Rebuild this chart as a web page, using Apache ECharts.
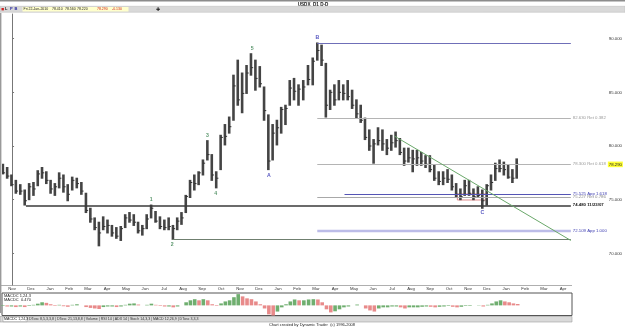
<!DOCTYPE html>
<html><head><meta charset="utf-8">
<script src="https://cdn.jsdelivr.net/npm/echarts@6/dist/echarts.min.js"></script>
<style>html,body{margin:0;padding:0;background:#fff}#c{width:625px;height:327px}</style>
</head><body><div id="c"></div><script>
// ---------- DATA ----------
const monthLabels = ['Nov','Dec','Jan','Feb','Mar','Apr','May','Jun','Jul','Aug','Sep','Oct',
  'Nov','Dec','Jan','Feb','Mar','Apr','May','Jun','Jul','Aug','Sep','Oct','Nov','Dec','Jan','Feb','Mar','Apr'];
const priceTicks = [70, 75, 80, 85, 90];

const weeks = ['2007-10-15','2007-10-22','2007-10-29','2007-11-05','2007-11-12','2007-11-19','2007-11-26',
 '2007-12-03','2007-12-10','2007-12-17','2007-12-24','2007-12-31',
 '2008-01-07','2008-01-14','2008-01-21','2008-01-28','2008-02-04','2008-02-11','2008-02-18','2008-02-25',
 '2008-03-03','2008-03-10','2008-03-17','2008-03-24','2008-03-31','2008-04-07','2008-04-14','2008-04-21','2008-04-28',
 '2008-05-05','2008-05-12','2008-05-19','2008-05-26','2008-06-02','2008-06-09','2008-06-16','2008-06-23','2008-06-30',
 '2008-07-07','2008-07-14','2008-07-21','2008-07-28','2008-08-04','2008-08-11','2008-08-18','2008-08-25',
 '2008-09-01','2008-09-08','2008-09-15','2008-09-22','2008-09-29','2008-10-06','2008-10-13','2008-10-20','2008-10-27',
 '2008-11-03','2008-11-10','2008-11-17','2008-11-24','2008-12-01','2008-12-08','2008-12-15','2008-12-22','2008-12-29',
 '2009-01-05','2009-01-12','2009-01-19','2009-01-26','2009-02-02','2009-02-09','2009-02-16','2009-02-23',
 '2009-03-02','2009-03-09','2009-03-16','2009-03-23','2009-03-30','2009-04-06','2009-04-13','2009-04-20','2009-04-27',
 '2009-05-04','2009-05-11','2009-05-18','2009-05-25','2009-06-01','2009-06-08','2009-06-15','2009-06-22','2009-06-29',
 '2009-07-06','2009-07-13','2009-07-20','2009-07-27','2009-08-03','2009-08-10','2009-08-17','2009-08-24','2009-08-31',
 '2009-09-07','2009-09-14','2009-09-21','2009-09-28','2009-10-05','2009-10-12','2009-10-19','2009-10-26',
 '2009-11-02','2009-11-09','2009-11-16','2009-11-23','2009-11-30','2009-12-07','2009-12-14','2009-12-21','2009-12-28',
 '2010-01-04','2010-01-11','2010-01-18'];

const highs = [78.3,78.0,77.3,76.8,76.4,75.9,76.5,76.6,77.7,78.0,77.6,76.8,
 76.5,77.5,77.3,76.4,77.1,77.0,76.6,75.6,74.2,73.3,72.9,73.4,73.1,72.6,72.4,72.5,73.6,
 73.8,73.6,72.9,72.6,73.6,74.5,73.9,73.4,73.1,73.3,72.6,73.3,73.8,75.4,76.8,77.3,77.6,
 78.7,80.5,79.2,77.6,81.0,82.0,82.7,86.6,88.0,86.8,87.5,88.6,88.0,87.4,85.5,82.9,82.0,82.4,
 83.6,83.8,86.1,86.3,85.7,86.1,87.5,88.2,89.6,89.4,87.7,85.2,85.7,86.1,85.7,86.1,85.2,
 84.3,83.8,82.6,81.5,80.6,81.7,81.5,80.6,81.0,81.3,80.7,79.8,79.8,79.6,79.6,79.4,79.1,79.1,
 78.2,77.6,77.6,77.8,77.3,76.5,76.0,76.8,76.8,76.0,76.2,75.9,76.4,77.3,78.4,78.7,78.5,
 78.2,77.8,78.8];
const lows = [77.4,77.0,76.3,75.6,75.5,74.5,75.0,75.4,76.3,77.0,76.5,75.6,
 75.4,76.1,75.7,74.9,75.9,76.1,75.5,73.8,72.9,72.2,70.7,72.2,71.9,71.6,71.4,71.2,72.4,
 72.9,72.6,71.9,71.7,72.3,73.3,72.9,72.3,72.2,72.2,71.3,72.2,72.7,73.8,75.2,75.9,76.4,
 77.3,78.7,76.8,76.1,77.8,80.1,81.2,82.4,83.8,83.1,84.9,86.6,85.2,85.5,82.4,77.8,78.7,80.1,
 81.2,82.0,83.8,84.3,83.8,84.3,85.7,85.7,88.0,87.5,82.7,83.4,83.8,84.3,84.3,84.3,83.5,
 82.6,82.2,80.6,79.6,78.4,80.1,79.6,79.2,79.6,79.9,79.2,78.2,78.5,77.6,78.2,78.2,78.0,77.6,
 76.8,76.4,76.4,76.6,75.9,75.2,75.0,75.4,75.4,75.0,75.2,74.2,74.5,75.9,76.8,77.6,77.3,
 77.0,76.6,77.0];
const closes = [77.5,77.2,76.4,75.8,75.8,74.9,76.2,76.0,77.4,77.5,76.8,76.0,
 76.2,77.0,76.2,75.5,76.8,76.5,75.8,74.0,73.2,72.4,71.9,72.5,72.6,71.9,71.6,72.3,73.3,
 73.1,72.9,72.1,72.3,73.2,74.2,73.0,72.5,72.4,72.5,72.3,73.0,73.3,75.3,76.6,76.5,77.5,
 78.4,79.2,77.3,77.0,80.8,80.9,81.8,85.6,84.3,84.9,86.8,87.3,86.3,85.8,83.3,78.6,81.2,81.7,
 83.4,83.5,85.4,85.1,85.3,85.5,86.2,87.9,88.9,88.0,83.8,85.0,84.3,85.0,84.9,84.6,83.8,
 83.0,82.4,80.8,80.0,80.2,80.5,80.2,79.8,80.3,80.5,79.4,78.6,78.9,78.8,78.9,78.6,78.3,77.8,
 77.0,76.7,77.0,76.9,76.2,75.5,75.3,76.3,75.6,75.3,75.4,74.9,76.3,76.6,77.9,77.9,77.8,
 77.1,77.0,78.29];

const macdHist = [-0.1,-0.2,-0.2,-0.3,-0.2,-0.3,-0.1,0.1,0.3,0.55,0.45,0.2,
 -0.1,0.1,-0.15,-0.25,0.1,0.2,0.0,-0.3,-0.45,-0.55,-0.65,-0.3,-0.2,-0.2,-0.3,-0.2,0.1,
 0.3,0.35,0.15,0.0,0.1,0.3,0.1,-0.1,-0.2,-0.2,-0.35,-0.2,0.0,0.55,0.9,1.1,0.9,
 1.1,0.9,0.2,-0.1,0.35,0.7,0.9,1.45,2.0,1.6,1.25,1.1,0.7,0.2,-0.55,-1.6,-1.8,-1.1,
 -0.35,0.2,0.7,1.05,0.9,0.9,1.05,1.1,1.05,0.55,-0.7,-1.25,-1.05,-0.7,-0.35,-0.2,0.0,
 0.15,0.0,-0.55,-0.9,-1.1,-0.55,-0.35,-0.35,-0.2,-0.2,-0.35,-0.55,-0.35,-0.35,-0.35,-0.25,-0.2,-0.25,
 -0.35,-0.25,-0.2,-0.1,-0.25,-0.35,-0.25,-0.1,-0.1,0.0,0.05,-0.2,0.1,0.35,0.7,0.9,0.7,
 0.55,0.35,0.25];

const lastBarDate = 'Fri 22-Jan-2010';
const lastBarValues = ['78.410','78.560','78.220','78.290','-0.130'];

// horizontal levels: price, start date, text
const levelPrices = [89.62, 82.63, 78.30, 75.525, 75.227, 74.48, 72.109, 71.31];
const levelStarts = ['2009-03-04','2009-03-04','2009-03-04','2009-04-17','2009-03-04','2007-11-23','2009-03-04','2008-07-15'];
const levelTexts  = ['', '82.630 Ret 0.382', '78.300 Ret 0.618', '75.525 App 1.618', '75.227 Ret 0.786', '74.480 11/23/07', '72.109 App 1.000', ''];

const trendDates  = ['2009-07-06', '2010-04-15'];
const trendPrices = [80.93, 71.2];
const boxDates  = ['2009-10-16', '2009-12-01'];
const boxPrices = [75.53, 74.97];

const waveTexts  = ['1','2','3','4','5','A','B','C'];
const waveDates  = ['2008-06-11','2008-07-15','2008-09-10','2008-09-23','2008-11-21','2008-12-18','2009-03-04','2009-11-25'];
const wavePrices = [74.5, 71.3, 80.5, 76.1, 88.6, 77.8, 89.6, 74.3];
const waveKinds  = ['H','L','H','L','H','L','H','L'];

// ---------- STYLES / LAYOUT ----------
const levelColors = ['#6f6fb8','#b4b4b4','#b4b4b4','#5555b5','#a8a8a8','#3a3a3a','#bcbce8','#6f7f6f'];
const levelWidths = [1, 1, 1, 1, 1, 1.6, 2.4, 1];
const levelLabelColors = ['#000','#999','#999','#3b3bb0','#888','#111','#3b3bb0','#000'];
const FONT = 'Liberation Sans';
const X_MIN = -0.53, X_MAX = 29.47;
const Y_MIN = 67.05, Y_MAX = 92.30;

function dateToM(s, addDays) {
  const p = s.split('-').map(Number);
  const dt = new Date(Date.UTC(p[0], p[1] - 1, p[2] + (addDays || 0)));
  const y = dt.getUTCFullYear(), mo = dt.getUTCMonth(), d = dt.getUTCDate();
  const dim = new Date(Date.UTC(y, mo + 1, 0)).getUTCDate();
  return (y - 2007) * 12 + (mo - 10) + (d - 1) / dim;
}

const priceData = weeks.map((w, i) => [dateToM(w, 2), highs[i], lows[i], closes[i]]);
const macdData = weeks.map((w, i) => ({
  value: [dateToM(w, 2), macdHist[i]],
  itemStyle: { color: (i === 0 || macdHist[i] >= macdHist[i - 1]) ? '#6fae6f' : '#e88a8a' }
}));

const markLines = levelPrices.map((p, i) => [
  { coord: [dateToM(levelStarts[i]), p],
    lineStyle: { color: levelColors[i], width: levelWidths[i], type: 'solid' },
    label: { show: !!levelTexts[i], formatter: levelTexts[i], position: 'end', distance: 2,
      fontSize: 4.3, fontFamily: FONT, color: levelLabelColors[i], fontWeight: i === 5 ? 'bold' : 'normal' } },
  { coord: [X_MAX, p] }
]);
markLines.push([
  { coord: [dateToM(trendDates[0]), trendPrices[0]], lineStyle: { color: '#6aa86a', width: 1, type: 'solid' }, label: { show: false } },
  { coord: [dateToM(trendDates[1]), trendPrices[1]] }
]);

const chart = echarts.init(document.getElementById('c'), null, { renderer: 'canvas' });
const txt = (x, y, t, o) => Object.assign({ type: 'text', x, y, style: Object.assign({ text: t, fontSize: 3.5, fontFamily: FONT, fill: '#222', verticalAlign: 'middle' }, o || {}) });

chart.setOption({
  animation: false,
  backgroundColor: '#fff',
  grid: [
    { left: 2, right: 53, top: 14, bottom: 42, show: false },
    { left: 2, right: 53, top: 293, height: 22.5, show: true, borderColor: '#555', borderWidth: 1, backgroundColor: 'transparent' }
  ],
  xAxis: [
    { type: 'value', gridIndex: 0, min: X_MIN, max: X_MAX, show: false },
    { type: 'value', gridIndex: 1, min: X_MIN, max: X_MAX, position: 'top',
      axisLine: { show: false }, axisTick: { show: false }, splitLine: { show: false },
      axisLabel: { show: true, customValues: monthLabels.map((_, i) => i), formatter: v => monthLabels[Math.round(v)] || '',
        fontSize: 4.3, fontFamily: FONT, color: '#333', margin: 2 } }
  ],
  yAxis: [
    { type: 'value', gridIndex: 0, min: Y_MIN, max: Y_MAX, position: 'right', offset: 36,
      axisLine: { show: true, lineStyle: { color: '#777', width: 1 } },
      axisTick: { show: true, length: 2, customValues: priceTicks, lineStyle: { color: '#777' } },
      splitLine: { show: false },
      axisLabel: { customValues: priceTicks, formatter: v => v.toFixed(3), fontSize: 4.3, fontFamily: FONT, color: '#333', margin: 2 } },
    { type: 'value', gridIndex: 1, min: -1.8, max: 2.2, show: false, splitLine: { show: false } }
  ],
  graphic: [
    { type: 'rect', shape: { x: 0, y: 0, width: 625, height: 1.6 }, style: { fill: '#8c8c8c' } },
    txt(313, 4.3, 'USDX_D1 D-D', { align: 'center', fontWeight: 'bold', fontSize: 4.6, fill: '#111' }),
    { type: 'rect', shape: { x: 0, y: 6.3, width: 625, height: 6 }, style: { fill: '#d9d9d9', stroke: '#bdbdbd', lineWidth: 0.5 } },
    { type: 'rect', shape: { x: 1.5, y: 8, width: 2.4, height: 2.4 }, style: { fill: '#d02020' } },
    txt(5, 9.3, 'L', { fill: '#222', fontWeight: 'bold', fontSize: 4 }),
    txt(10, 9.3, 'P', { fill: '#2a2aa0', fontWeight: 'bold', fontSize: 4 }),
    txt(14.5, 9.3, 'B', { fill: '#2a2aa0', fontWeight: 'bold', fontSize: 4 }),
    { type: 'rect', shape: { x: 22.5, y: 7, width: 106, height: 4.6 }, style: { fill: '#ffffcc' } },
    txt(23.5, 9.4, lastBarDate),
    txt(52, 9.4, lastBarValues[0]),
    txt(65, 9.4, lastBarValues[1]),
    txt(77, 9.4, lastBarValues[2]),
    txt(97, 9.4, lastBarValues[3], { fill: '#d02020' }),
    txt(112, 9.4, lastBarValues[4], { fill: '#d02020' }),
    txt(156, 9.3, '\u271A', { fill: '#111', fontSize: 4.6 }),
    { type: 'rect', shape: { x: 0, y: 13, width: 1.4, height: 300 }, style: { fill: '#9a9a9a' } },
    { type: 'line', shape: { x1: 0, y1: 285.5, x2: 572, y2: 285.5 }, style: { stroke: '#9a9a9a', lineWidth: 0.8 } },
    txt(4, 296, 'MACDC 1,24,3', { fontSize: 4 }),
    txt(4, 300, 'MACDC  0.470', { fontSize: 4 }),
    { type: 'rect', shape: { x: 0, y: 316.5, width: 572, height: 5.5 }, style: { fill: '#dadada', stroke: '#a0a0a0', lineWidth: 0.6 } },
    { type: 'rect', shape: { x: 3, y: 316.8, width: 24, height: 4.9 }, style: { fill: '#ffffff', stroke: '#888', lineWidth: 0.5 } },
    txt(4, 319.3, 'MACDC 1,24,3', { fontSize: 3.6 }),
    txt(29, 319.3, 'DTosc 8,5,3,3,8 | DTosc 21,13,8,8 | Volume | RSI 14 | ADX 14 | Stoch 14,3,3 | MACD 12,26,9 | DTosc 3,3,3', { fontSize: 3.6, fill: '#333' }),
    txt(312, 324.5, 'Chart created by Dynamic Trader  (c) 1996-2008', { align: 'center', fontSize: 4, fill: '#222' })
  ],
  series: [
    {
      type: 'custom', xAxisIndex: 0, yAxisIndex: 0, clip: true,
      data: priceData,
      encode: { x: 0, y: [1, 2, 3] },
      renderItem: (params, api) => {
        const x = api.value(0);
        const h = api.coord([x, api.value(1)]);
        const l = api.coord([x, api.value(2)]);
        const c = api.coord([x, api.value(3)]);
        return { type: 'group', children: [
          { type: 'line', shape: { x1: h[0], y1: h[1] - 0.5, x2: l[0], y2: l[1] + 0.5 }, style: { stroke: '#444', lineWidth: 2.6 } },
          { type: 'line', shape: { x1: c[0], y1: c[1], x2: c[0] + 2.2, y2: c[1] }, style: { stroke: '#333', lineWidth: 1 } }
        ] };
      }
    },
    {
      type: 'line', xAxisIndex: 0, yAxisIndex: 0, data: [], silent: true,
      markLine: { silent: true, symbol: ['none', 'none'], animation: false, data: markLines },
      markArea: { silent: true, data: [[
        { coord: [dateToM(boxDates[0]), boxPrices[0]], itemStyle: { color: 'rgba(0,0,0,0)', borderColor: '#e08a8a', borderWidth: 1 } },
        { coord: [dateToM(boxDates[1]), boxPrices[1]] }
      ]] }
    },
    {
      type: 'scatter', xAxisIndex: 0, yAxisIndex: 0, symbolSize: 0, silent: true,
      data: waveTexts.map((t, i) => ({
        value: [dateToM(waveDates[i]), wavePrices[i]], name: t,
        label: { show: true, formatter: t, position: waveKinds[i] === 'H' ? 'top' : 'bottom', distance: 3,
          color: /[0-9]/.test(t) ? '#2e7a45' : '#2b2bb0', fontSize: 5.2, fontWeight: 'bold', fontFamily: FONT }
      }))
    },
    {
      type: 'custom', xAxisIndex: 0, yAxisIndex: 0, clip: false, silent: true,
      data: [[X_MAX, closes[closes.length - 1]]],
      renderItem: (params, api) => {
        const c = api.coord([api.value(0), api.value(1)]);
        return { type: 'group', children: [
          { type: 'rect', shape: { x: c[0] + 37, y: c[1] - 2.8, width: 15, height: 5.6 }, style: { fill: '#ffff33' } },
          { type: 'text', x: c[0] + 38, y: c[1], style: { text: api.value(1).toFixed(3), fontSize: 4.3, fontFamily: FONT, fill: '#222', verticalAlign: 'middle' } }
        ] };
      }
    },
    {
      type: 'bar', xAxisIndex: 1, yAxisIndex: 1, barWidth: 3.6, data: macdData, silent: true
    }
  ]
});
</script></body></html>
